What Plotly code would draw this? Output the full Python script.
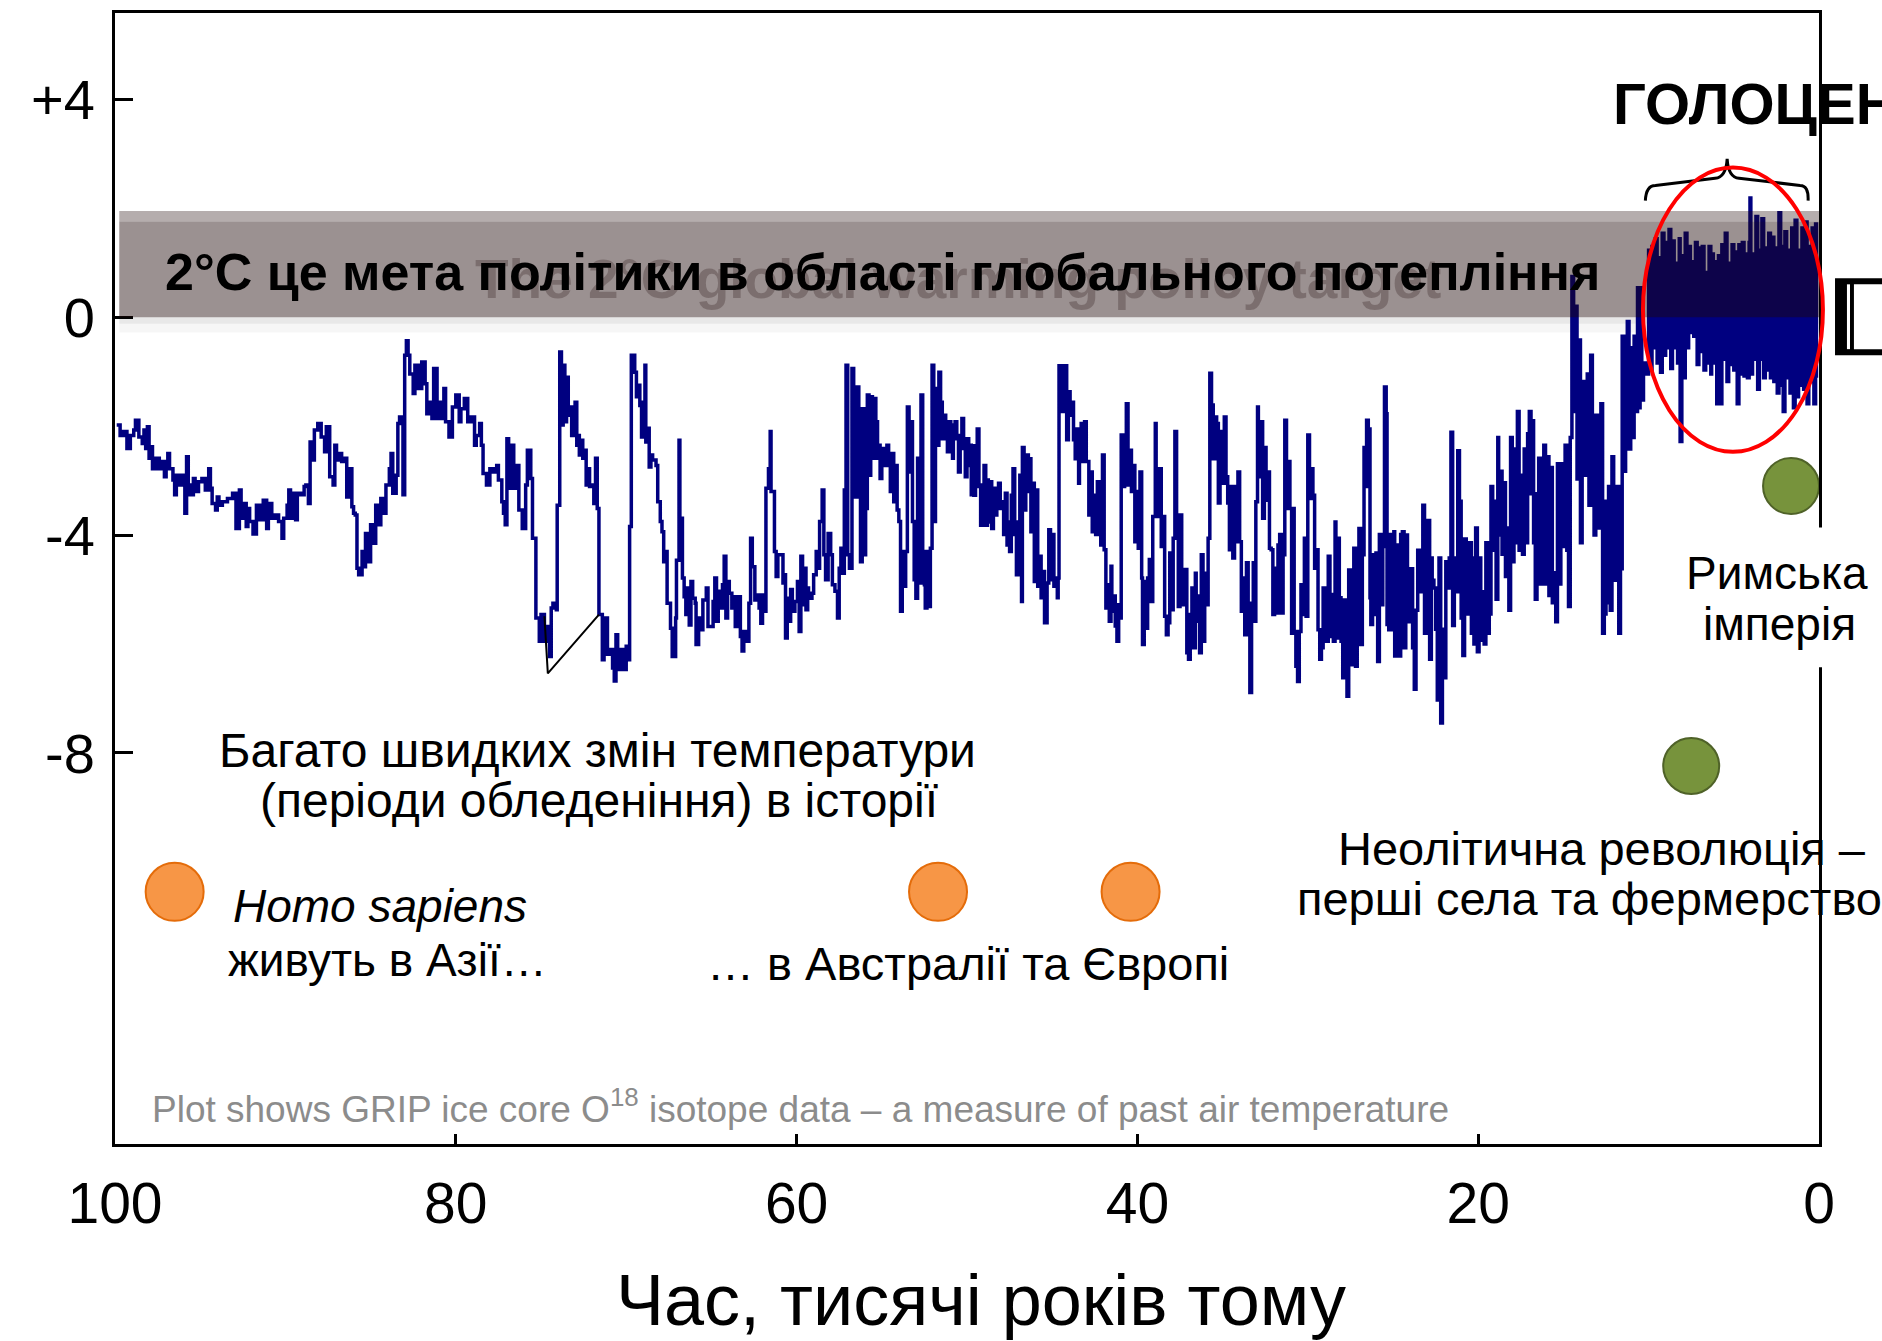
import plotly.graph_objects as go

# ---------------- data ----------------
grip_age = [
 99.9,99.7,99.5,99.3,99.1,98.9,98.8,98.6,98.4,98.3,98.2,98.1,98.0,97.9,97.8,97.6,97.4,97.2,97.1,97.0,
 96.9,96.8,96.6,96.5,96.4,96.2,96.0,95.9,95.8,95.7,95.6,95.4,95.3,95.1,94.9,94.7,94.5,94.4,94.3,94.1,
 94.0,93.9,93.7,93.4,93.1,92.9,92.7,92.6,92.4,92.3,92.2,92.1,91.9,91.7,91.5,91.3,91.1,91.0,90.8,90.6,
 90.4,90.2,90.1,89.9,89.8,89.7,89.6,89.4,89.3,89.1,88.9,88.8,88.65,88.55,88.5,88.3,88.1,87.9,87.7,87.6,
 87.4,87.2,87.1,87.0,86.8,86.7,86.5,86.4,86.3,86.1,86.0,85.9,85.8,85.7,85.5,85.4,85.3,85.2,85.0,84.9,
 84.7,84.5,84.4,84.2,84.1,83.9,83.8,83.7,83.5,83.4,83.3,83.1,83.0,82.9,82.8,82.7,82.5,82.4,82.2,82.0,
 81.8,81.7,81.5,81.4,81.3,81.1,81.0,80.8,80.7,80.6,80.4,80.2,80.0,79.8,79.7,79.5,79.3,79.1,78.9,78.8,
 78.6,78.5,78.4,78.2,78.0,77.8,77.6,77.5,77.3,77.2,77.1,77.0,76.9,76.7,76.6,76.4,76.3,76.1,75.9,75.8,
 75.6,75.5,75.4,75.3,75.1,75.0,
 74.8,74.7,74.5,74.4,74.3,74.1,74.05,73.9,73.8,73.7,73.6,73.5,73.4,73.3,73.2,73.1,73.0,72.9,72.85,72.75,
 72.65,72.55,72.45,72.35,72.25,72.15,72.0,71.9,71.8,71.7,71.6,71.4,71.3,71.1,70.9,70.8,70.7,70.6,70.5,70.4,
 70.2,70.0,69.9,69.8,69.7,69.5,69.4,69.3,69.2,69.1,69.0,68.9,68.85,68.75,68.65,68.55,68.45,68.25,68.15,68.0,
 67.9,67.8,67.7,67.6,67.4,67.3,67.1,67.05,66.9,66.85,66.7,66.6,66.5,66.4,66.3,66.2,66.1,65.95,65.9,65.75,
 65.7,65.5,65.3,65.2,65.0,64.9,64.8,64.7,64.6,64.45,64.35,64.25,64.15,64.05,63.95,63.8,63.7,63.6,63.4,63.3,
 63.2,63.1,62.95,62.8,62.7,62.6,62.45,62.3,62.2,62.1,62.0,61.85,61.8,61.65,61.55,61.5,61.3,61.2,61.1,61.0,
 60.8,60.7,60.65,60.55,60.45,60.35,60.25,60.1,59.95,59.85,59.75,59.65,59.55,59.45,59.35,59.3,59.1,59.0,58.85,58.7,
 58.65,58.5,58.4,58.3,58.15,58.0,57.9,57.75,57.6,57.5,57.4,57.3,57.2,57.1,57.0,56.9,56.75,56.65,56.55,56.45,
 56.35,56.25,56.15,56.05,55.95,55.85,55.75,55.65,55.55,55.45,55.35,55.25,55.2,55.1,55.0,54.9,54.8,54.7,54.6,54.5,
 54.4,54.3,54.2,54.1,54.0,53.9,53.8,53.7,53.6,53.5,53.4,53.3,53.2,53.1,53.0,52.9,52.8,52.7,52.6,52.5,
 52.45,52.35,52.25,52.15,52.05,51.95,51.85,51.75,51.65,51.55,51.45,51.35,51.25,51.15,51.05,50.95,50.85,50.8,50.7,50.6,
 50.5,50.4,50.3,50.2,50.1,50.0,49.9,49.8,49.75,
 49.7,49.6,49.5,49.4,49.3,49.2,49.1,49.0,48.9,48.8,48.75,48.65,48.55,48.45,48.35,48.25,48.15,48.05,47.95,47.85,
 47.75,47.65,47.6,47.5,47.4,47.3,47.2,47.1,47.0,46.9,46.8,46.75,46.65,46.55,46.4,46.35,46.25,46.15,46.05,45.95,
 45.85,45.75,45.65,45.55,45.45,45.3,45.2,45.1,45.0,44.9,44.8,44.7,44.65,44.6,44.45,44.35,44.25,44.15,44.05,43.95,
 43.85,43.75,43.65,43.55,43.45,43.4,43.3,43.2,43.1,43.0,42.85,42.75,42.65,42.55,42.45,42.35,42.25,42.15,42.05,41.95,
 41.85,41.75,41.65,41.55,41.5,41.4,41.3,41.2,41.1,41.0,40.95,40.85,40.75,40.65,40.55,40.45,40.35,40.25,40.15,40.05,
 39.95,39.85,39.75,39.7,39.6,39.5,39.4,39.3,39.2,39.1,39.0,38.95,38.9,38.8,38.7,38.6,38.5,38.4,38.3,38.2,
 38.1,38.0,37.9,37.8,37.7,37.6,37.5,37.4,37.3,37.2,37.1,37.0,36.9,36.8,36.7,36.6,36.55,36.45,36.35,36.25,
 36.15,36.05,35.95,35.85,35.75,35.65,35.55,35.45,35.35,35.25,35.15,35.05,34.95,34.9,34.8,34.7,34.6,34.5,34.4,34.3,
 34.2,34.1,34.0,33.9,33.8,33.7,33.6,33.5,33.4,33.3,33.2,33.1,33.05,32.95,32.9,32.75,32.65,32.55,32.45,32.35,
 32.25,32.15,32.05,31.95,31.85,31.75,31.65,31.55,31.45,31.35,31.25,31.15,31.05,30.95,30.9,30.8,30.7,30.6,30.5,30.4,
 30.3,30.2,30.1,30.0,29.9,29.8,29.7,29.6,29.5,29.4,29.3,29.2,29.1,29.0,28.9,28.8,28.7,28.6,28.5,28.4,
 28.35,28.25,28.15,28.05,27.95,27.85,27.75,27.7,27.6,27.5,27.4,27.3,27.2,27.1,27.0,26.9,26.8,26.7,26.6,26.55,
 26.45,26.35,26.3,26.2,26.1,26.0,25.9,25.8,25.7,25.6,25.5,25.4,25.35,25.25,25.15,25.05,24.95,24.9,24.7,24.6,
 24.55,
 24.5,24.45,24.35,24.25,24.15,24.05,23.95,23.85,23.75,23.65,23.55,23.45,23.35,23.25,23.15,23.05,22.95,22.85,22.75,22.7,
 22.6,22.5,22.4,22.3,22.2,22.1,22.0,21.9,21.8,21.7,21.6,21.5,21.4,21.3,21.2,21.1,21.0,20.9,20.8,20.7,
 20.6,20.5,20.4,20.35,20.25,20.15,20.05,19.95,19.85,19.75,19.65,19.55,19.45,19.35,19.25,19.15,19.05,18.95,18.85,18.8,
 18.7,18.6,18.5,18.4,18.3,18.2,18.1,18.0,17.9,17.8,17.7,17.6,17.5,17.4,17.3,17.2,17.1,17.0,16.9,16.85,
 16.75,16.65,16.55,16.45,16.35,16.25,16.15,16.05,15.95,15.85,15.75,15.65,15.55,15.45,15.35,15.25,15.15,15.05,14.95,14.9,
 14.8,14.7,14.6,14.5,14.4,14.3,14.2,14.1,14.0,13.9,13.8,13.7,13.6,13.5,13.4,13.3,13.2,13.1,13.0,12.9,
 12.8,12.7,12.6,12.5,12.45,12.35,12.25,12.15,12.05,11.95,11.85,11.75,11.65,11.55,11.45,11.35,11.25,11.15,11.05,10.95,
 10.85,10.75,10.65,10.6,10.5,10.4,10.3,10.2,10.1,
 10.0,9.9,9.8,9.7,9.6,9.5,9.4,9.3,9.2,9.1,9.0,8.9,8.8,8.7,8.6,8.5,8.4,8.3,8.2,8.15,
 8.05,7.95,7.85,7.75,7.65,7.55,7.45,7.35,7.25,7.15,7.05,6.95,6.85,6.75,6.65,6.55,6.45,6.35,6.3,6.2,
 6.1,6.0,5.9,5.8,5.7,5.6,5.5,5.4,5.3,5.2,5.1,5.0,4.9,4.8,4.7,4.6,4.5,4.4,4.3,4.2,
 4.1,4.05,4.0,3.9,3.8,3.7,3.6,3.5,3.4,3.35,3.25,3.15,3.05,2.95,2.85,2.75,2.65,2.55,2.45,2.35,
 2.25,2.2,2.1,2.0,1.9,1.8,1.7,1.6,1.5,1.4,1.3,1.2,1.1,1.0,0.9,0.8,0.7,0.6,0.5,0.4,
 0.3,0.2,0.15,
]
grip_d18o = [
 -1.98,-2.17,-2.10,-2.41,-2.17,-2.07,-1.89,-2.20,-2.32,-2.07,-2.41,-2.01,-2.59,-2.38,-2.78,-2.59,-2.78,-2.65,-2.93,-2.72,
 -2.50,-2.78,-2.99,-3.26,-2.90,-3.08,-2.90,-3.60,-2.56,-3.08,-3.26,-2.96,-3.20,-3.02,-2.96,-3.17,-2.78,-3.14,-3.42,-3.54,
 -3.30,-3.45,-3.39,-3.33,-3.23,-3.88,-3.17,-3.69,-3.42,-3.84,-3.51,-3.75,-3.98,-3.45,-3.72,-3.36,-3.88,-3.42,-3.69,-3.63,
 -3.75,-4.06,-3.69,-3.45,-3.17,-3.69,-3.23,-3.72,-3.23,-3.26,-3.11,-3.08,-3.42,-2.29,-2.62,-2.07,-1.95,-2.20,-2.47,-2.01,
 -2.93,-3.08,-2.35,-2.62,-2.50,-2.65,-2.59,-3.30,-2.78,-3.48,-3.60,-3.63,-4.61,-4.73,-4.30,-4.58,-3.97,-4.49,-3.81,-4.15,
 -3.45,-3.81,-3.33,-3.60,-3.08,-2.78,-2.50,-3.23,-2.90,-1.95,-1.83,-3.26,-0.70,-0.43,-0.70,-1.04,-1.40,-0.88,-1.31,-0.82,
 -1.22,-1.77,-1.56,-1.86,-0.94,-1.86,-1.56,-1.86,-1.31,-1.92,-2.20,-1.65,-1.43,-1.92,-1.68,-1.49,-1.92,-1.83,-2.35,-2.17,
 -1.95,-2.35,-2.87,-3.08,-2.78,-2.84,-2.72,-2.99,-3.39,-3.60,-3.81,-2.23,-3.14,-2.35,-3.14,-2.72,-3.54,-3.88,-3.08,-2.44,
 -2.96,-4.06,-4.06,-5.52,-5.95,-5.46,
 -5.95,-5.68,-6.23,-5.34,-5.25,-5.37,-3.45,-0.64,-1.98,-0.88,-1.92,-1.10,-1.80,-1.65,-2.17,-1.77,-1.56,-2.35,-2.17,-2.53,
 -2.26,-2.59,-2.44,-3.08,-2.78,-3.11,-3.08,-3.42,-2.59,-3.51,-5.46,-6.29,-5.52,-6.19,-6.10,-6.44,-6.68,-5.83,-6.47,-6.10,
 -6.47,-6.04,-6.29,-3.84,-0.70,-1.01,-1.46,-1.25,-1.62,-2.20,-1.56,-0.88,-2.29,-2.04,-2.75,-2.53,-2.62,-2.72,-3.39,-3.75,
 -3.94,-4.49,-4.30,-5.25,-5.71,-6.23,-5.52,-4.46,-2.26,-3.69,-4.79,-5.13,-5.46,-4.97,-5.65,-4.85,-5.16,-5.25,-6.01,-5.52,
 -5.74,-5.19,-4.97,-5.68,-5.68,-5.22,-4.79,-5.58,-5.03,-5.34,-4.91,-4.39,-5.52,-4.85,-5.07,-5.34,-5.13,-5.68,-5.13,-5.86,
 -6.13,-5.77,-5.95,-5.25,-4.06,-4.58,-5.19,-5.10,-5.34,-5.62,-5.10,-5.40,-3.14,-2.78,-2.10,-3.20,-4.30,-4.76,-4.36,-4.36,
 -4.88,-4.73,-5.89,-5.16,-5.58,-5.00,-5.40,-5.22,-4.85,-5.77,-4.39,-5.28,-4.61,-5.37,-4.97,-5.16,-5.07,-4.73,-4.30,-4.61,
 -3.75,-3.17,-4.36,-4.82,-3.97,-4.36,-4.91,-5.03,-5.52,-4.61,-4.24,-4.70,-3.17,-0.88,-4.36,-4.61,-0.94,-1.46,-3.30,-1.28,
 -2.93,-4.49,-1.68,-4.36,-3.51,-1.43,-2.90,-1.46,-2.59,-1.49,-1.92,-2.59,-2.35,-2.96,-2.65,-2.41,-2.72,-2.35,-2.72,-3.20,
 -2.50,-3.39,-2.72,-3.54,-3.75,-5.40,-4.30,-4.94,-4.30,-1.65,-2.84,-1.92,-3.75,-4.82,-5.16,-2.59,-4.88,-1.43,-4.30,-4.91,
 -5.34,-4.30,-5.31,-4.24,-0.88,-3.75,-1.31,-2.35,-1.01,-1.56,-2.23,-1.80,-1.92,-2.47,-1.92,-2.17,-2.59,-1.98,-1.92,-2.23,
 -2.84,-2.17,-1.86,-2.41,-2.93,-2.23,-2.72,-2.35,-3.26,
 -2.36,-3.27,-2.51,-2.05,-3.11,-3.82,-3.08,-2.72,-3.82,-2.99,-3.76,-3.02,-3.88,-3.14,-3.63,-3.20,-3.05,-3.51,-3.39,-3.99,
 -3.23,-4.18,-3.76,-4.30,-3.27,-2.78,-3.99,-4.73,-3.76,-2.90,-5.22,-2.39,-3.54,-2.53,-3.20,-2.60,-3.94,-3.05,-4.85,-3.17,
 -4.94,-4.39,-5.15,-4.67,-5.61,-4.88,-3.90,-4.82,-3.99,-4.94,-4.79,-5.15,-4.79,-0.89,-1.73,-1.19,-0.89,-2.25,-1.37,-1.80,
 -1.56,-2.25,-2.60,-2.05,-3.05,-2.65,-1.95,-2.65,-1.92,-2.65,-3.63,-2.84,-3.94,-3.27,-3.99,-3.02,-3.99,-4.18,-2.53,-4.27,
 -5.34,-4.91,-5.58,-4.57,-5.40,-5.12,-5.67,-5.95,-5.28,-5.52,-2.16,-3.11,-2.22,-1.59,-3.08,-2.44,-3.20,-2.72,-4.12,-3.20,
 -4.24,-2.84,-4.79,-6.01,-4.85,-5.71,-4.79,-4.45,-5.22,-3.66,-3.66,-1.95,-2.78,-3.66,-2.78,-4.21,-3.66,-5.49,-5.83,-5.61,
 -4.33,-5.37,-4.06,-2.10,-3.63,-5.31,-3.63,-4.91,-5.28,-4.63,-6.16,-6.28,-5.46,-4.97,-6.07,-4.70,-5.58,-5.12,-6.16,-4.36,
 -5.95,-4.70,-5.28,-4.06,-1.03,-1.61,-2.60,-1.83,-1.95,-3.41,-2.53,-2.10,-3.05,-1.83,-2.93,-3.41,-4.27,-3.11,-4.42,-3.11,
 -4.12,-2.84,-4.12,-5.40,-4.79,-5.83,-4.51,-5.28,-6.89,-5.25,-4.51,-5.58,-3.39,-1.65,-2.93,-1.92,-3.69,-2.39,-3.36,-2.84,
 -4.24,-4.27,-5.46,-4.61,-5.43,-4.18,-3.99,-5.43,-4.36,-1.89,-3.51,-2.65,-3.51,-5.80,-3.51,-5.77,-6.41,-6.69,-5.77,-4.91,
 -5.46,-4.06,-5.49,-2.16,-3.33,-2.78,-3.27,-4.61,-4.27,-5.74,-6.28,-6.07,-4.97,-5.89,-5.95,-4.39,-5.86,-5.09,-5.95,-3.76,
 -5.89,-4.06,-5.15,-5.95,-6.62,-5.19,-6.62,-6.96,-4.64,-6.38,-5.03,-4.24,-6.41,-4.91,-3.88,-6.01,-4.36,-2.39,-3.11,-1.89,
 -2.05,-5.15,-5.64,-4.36,-5.46,-4.33,-6.32,-3.99,-5.28,-4.21,-1.28,-1.77,-5.64,-5.74,-3.99,-5.74,-3.94,-6.22,-4.18,-6.22,
 -3.99,
 -4.56,-3.94,-6.07,-4.00,-5.59,-5.11,-4.62,-6.07,-6.83,-5.38,-4.28,-5.04,-4.49,-3.45,-5.80,-3.94,-3.73,-6.28,-4.42,-4.83,
 -4.97,-5.73,-7.03,-4.42,-7.45,-5.73,-6.62,-4.49,-4.97,-4.42,-2.11,-5.66,-4.42,-5.04,-2.45,-3.38,-5.52,-6.21,-4.07,-5.45,
 -4.90,-4.14,-5.80,-4.42,-6.00,-3.87,-6.14,-4.42,-5.93,-5.04,-6.00,-4.14,-5.80,-5.45,-3.11,-4.28,-3.38,-5.18,-2.21,-4.00,
 -2.83,-4.35,-3.04,-4.76,-3.87,-5.38,-2.21,-4.49,-2.42,-4.14,-1.73,-4.28,-2.90,-4.35,-2.42,-4.14,-2.14,-1.73,-3.24,-1.90,
 -4.14,-5.18,-3.24,-2.59,-4.90,-4.28,-2.35,-4.90,-2.56,-5.11,-2.76,-5.24,-4.69,-5.59,-2.69,-4.90,-2.90,-2.69,-4.21,-2.35,
 -4.28,-5.31,-2.21,0.75,-1.73,0.20,-2.97,-0.42,-4.14,-2.63,-1.18,-2.90,-1.04,-3.45,-0.70,-3.04,-4.00,-1.80,-3.38,-3.87,
 -1.59,-5.80,-5.45,-3.38,-5.24,-3.11,-5.38,-2.56,-4.83,-3.73,-3.11,-5.80,-4.62,-0.35,-2.83,-0.97,-0.08,-2.42,-0.56,-2.21,
 -0.35,-1.73,0.54,-1.66,0.54,-1.52,-0.84,-0.84,-1.04,
 1.23,-0.97,1.30,-0.56,1.44,-0.84,1.09,-1.01,1.54,-0.70,1.37,-0.56,1.61,-0.94,1.40,-0.56,0.99,-0.84,1.44,-2.28,
 1.13,-1.11,1.54,-0.56,1.30,-0.28,1.02,-0.35,1.37,-0.87,1.27,-0.63,1.30,-0.97,0.82,-0.84,1.30,-1.04,1.16,-0.84,
 1.02,-1.59,1.13,-1.59,1.33,-0.77,1.54,-1.18,0.99,-0.87,1.33,-0.97,1.20,-1.59,1.33,-1.04,1.37,-1.08,1.16,-1.11,
 1.37,2.19,-1.04,1.16,-0.77,1.85,-1.32,1.23,-0.77,1.81,-1.11,1.27,-0.97,1.54,-1.11,1.47,-1.18,1.27,-1.39,1.92,
 -1.25,1.30,-1.73,1.57,-1.11,1.23,-1.39,1.64,-1.66,1.78,-1.46,1.23,-1.25,1.64,-1.32,1.75,-1.59,1.30,-1.18,1.64,
 -1.59,1.71,-1.11,
]

# marked events
homo_ages = [96.5, 51.7, 40.4]
homo_vals = [-10.55, -10.55, -10.55]
civ_ages = [7.5, 1.64]
civ_vals = [-8.24, -3.1]

# small black stroke drawn in the original near 75-72 ky
stroke_ages = [74.8, 74.6, 71.6]
stroke_vals = [-5.49, -6.54, -5.46]

x_ticks = [100, 80, 60, 40, 20, 0]
y_ticks = [4, 0, -4, -8]
y_ticktext = ["+4", "0", "-4", "-8"]

FONT = "Arial, 'Liberation Sans', sans-serif"

fig = go.Figure()

fig.add_trace(go.Scatter(x=grip_age, y=grip_d18o, mode="lines",
                         line=dict(color="#000080", width=3.5, shape="hv"),
                         hoverinfo="skip", showlegend=False))
fig.add_trace(go.Scatter(x=stroke_ages, y=stroke_vals, mode="lines",
                         line=dict(color="black", width=2),
                         hoverinfo="skip", showlegend=False))
fig.add_trace(go.Scatter(x=homo_ages, y=homo_vals, mode="markers",
                         marker=dict(size=58, color="#f79646",
                                     line=dict(color="#e46c0a", width=2)),
                         hoverinfo="skip", showlegend=False, cliponaxis=False))
fig.add_trace(go.Scatter(x=civ_ages, y=civ_vals, mode="markers",
                         marker=dict(size=56, color="#77933c",
                                     line=dict(color="#4f6228", width=2)),
                         hoverinfo="skip", showlegend=False, cliponaxis=False))

shapes = []
# 2 degree band (semi-transparent, above the series)
shapes.append(dict(type="rect", xref="x", yref="y", x0=99.75, x1=-0.2, y0=0, y1=1.76,
                   fillcolor="rgba(29,7,7,0.443)", line=dict(width=0), layer="above"))
shapes.append(dict(type="rect", xref="x", yref="y", x0=99.75, x1=-0.2, y0=1.76, y1=1.95,
                   fillcolor="rgba(29,7,7,0.33)", line=dict(width=0), layer="above"))
shapes.append(dict(type="rect", xref="x", yref="y", x0=99.75, x1=-0.2, y0=-0.12, y1=0,
                   fillcolor="rgba(0,0,0,0.09)", line=dict(width=0), layer="below"))
shapes.append(dict(type="rect", xref="x", yref="y", x0=99.75, x1=-0.2, y0=-0.28, y1=-0.12,
                   fillcolor="rgba(0,0,0,0.035)", line=dict(width=0), layer="below"))
# brace over the Holocene
shapes.append(dict(type="path", xref="x", yref="y",
                   path="M 10.19,2.14 Q 10.15,2.42 9.6,2.42 L 6.1,2.55 Q 5.45,2.57 5.39,2.91 "
                        "Q 5.33,2.57 4.69,2.55 L 1.11,2.42 Q 0.6,2.42 0.64,2.14",
                   line=dict(color="black", width=3), layer="above"))
# red ellipse
shapes.append(dict(type="circle", xref="paper", yref="paper",
                   x0=0.8967, x1=1.0023, y0=0.612, y1=0.8633,
                   line=dict(color="#ff0000", width=4), layer="above"))
# white gap in the right frame behind the "Roman" label
shapes.append(dict(type="rect", xref="paper", yref="paper",
                   x0=0.9947, x1=1.0053, y0=0.4215, y1=0.545,
                   fillcolor="white", line=dict(width=0), layer="above"))
# clipped bracket glyph at the right edge
shapes.append(dict(type="rect", xref="paper", yref="paper",
                   x0=1.0094, x1=1.05, y0=0.6975, y1=0.7654,
                   fillcolor="black", line=dict(width=0), layer="above"))
shapes.append(dict(type="rect", xref="paper", yref="paper",
                   x0=1.0205, x1=1.05, y0=0.7028, y1=0.7601,
                   fillcolor="white", line=dict(width=0), layer="above"))
shapes.append(dict(type="rect", xref="paper", yref="paper",
                   x0=1.0164, x1=1.0182, y0=0.7028, y1=0.7601,
                   fillcolor="white", line=dict(width=0), layer="above"))

def txt(text, x, y, size, xanchor="center", color="black", weight="normal",
        xref="x", yref="y", style="normal"):
    return dict(text=text, x=x, y=y, xref=xref, yref=yref, xanchor=xanchor,
                yanchor="middle", showarrow=False,
                font=dict(family=FONT, size=size, color=color, weight=weight, style=style))

annotations = [
    txt("The 2°C global warming policy target", 79.0, 0.71, 55, "left",
        color="rgba(50,30,30,0.30)", weight="bold"),
    txt("2°C це мета політики в області глобального потепління", 97.16, 0.83, 52, "left",
        weight="bold"),
    txt("ГОЛОЦЕН", 12.18, 3.92, 58, "left", weight="bold"),
    txt("Багато швидких змін температури", 71.71, -7.95, 48),
    txt("(періоди обледеніння) в історії", 71.6, -8.88, 48),
    txt("Homo sapiens", 93.18, -10.81, 46, "left", style="italic"),
    txt("живуть в Азії…", 93.47, -11.81, 46, "left"),
    txt("… в Австралії та Європі", 49.96, -11.87, 47),
    txt("Неолітична революція –", 12.71, -9.76, 47),
    txt("перші села та фермерство", 13.47, -10.68, 47),
    txt("Римська", 2.46, -4.69, 46),
    txt("імперія", 2.31, -5.64, 46),
    txt("Plot shows GRIP ice core O<sup>18</sup> isotope data – a measure of past air temperature",
        97.92, -14.49, 37, "left", color="#8c8c8c"),
    txt("Час, тисячі років тому", 0.508, -0.138, 72, xref="paper", yref="paper"),
]

fig.update_layout(
    width=1882, height=1341,
    margin=dict(l=115, r=63, t=10, b=197),
    paper_bgcolor="white", plot_bgcolor="white",
    showlegend=False,
    font=dict(family=FONT, color="black"),
    shapes=shapes, annotations=annotations,
    xaxis=dict(range=[100, 0], tickvals=x_ticks, ticks="inside", ticklen=10, tickwidth=3,
               tickcolor="black", showline=True, linecolor="black", linewidth=3, mirror=True,
               showgrid=False, zeroline=False, tickfont=dict(size=57, family=FONT),
               ticklabelstandoff=8),
    yaxis=dict(range=[-15.18, 5.586], tickvals=y_ticks, ticktext=y_ticktext, ticks="inside",
               ticklen=18, tickwidth=3, tickcolor="black", showline=True, linecolor="black",
               linewidth=3, mirror=True, showgrid=False, zeroline=False,
               tickfont=dict(size=56, family=FONT), ticklabelstandoff=6),
)

fig.write_html("out.html", config={"displayModeBar": False},
               post_script="document.body.style.margin='0';document.body.style.overflow='hidden';")
